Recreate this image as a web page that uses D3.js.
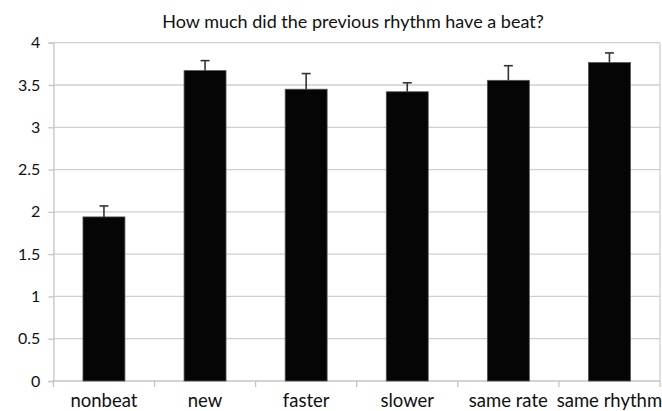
<!DOCTYPE html>
<html>
<head>
<meta charset="utf-8">
<script src="https://cdn.jsdelivr.net/npm/d3@7"></script>
<style>
  html, body { margin: 0; padding: 0; background: #fff; }
  svg { display: block; }
  text { font-family: Lato, "Open Sans", sans-serif; fill: #111; }
</style>
</head>
<body>
<svg id="chart" width="662" height="411"></svg>
<script>
// Mean ratings per condition, with standard-error bars
const categories = ["nonbeat", "new", "faster", "slower", "same rate", "same rhythm"];
const means = [1.94, 3.67, 3.45, 3.42, 3.555, 3.765];
const errors = [0.13, 0.118, 0.185, 0.106, 0.173, 0.114];
const yTicks = [0, 0.5, 1, 1.5, 2, 2.5, 3, 3.5, 4];
const title = "How much did the previous rhythm have a beat?";

const svg = d3.select("#chart");
const margin = { left: 53.4, right: 2, top: 42.7, bottom: 30 };
const W = 662, H = 411;
const plotBottom = 381;

const x = d3.scaleBand()
  .domain(categories)
  .range([margin.left, W - margin.right])
  .paddingInner(0.585)
  .paddingOuter(0.2925);

const y = d3.scaleLinear()
  .domain([0, 4])
  .range([plotBottom, margin.top]);

// Horizontal gridlines
svg.append("g")
  .selectAll("line")
  .data(yTicks.filter(d => d > 0))
  .join("line")
  .attr("x1", margin.left)
  .attr("x2", W - margin.right)
  .attr("y1", d => y(d))
  .attr("y2", d => y(d))
  .attr("stroke", "#cfcfcf")
  .attr("stroke-width", 1.3);

// Right border of the plot area
svg.append("line")
  .attr("x1", W - margin.right).attr("x2", W - margin.right)
  .attr("y1", y(4)).attr("y2", plotBottom)
  .attr("stroke", "#cfcfcf").attr("stroke-width", 1.3);

// Y axis
const yAxis = svg.append("g")
  .attr("transform", `translate(${margin.left},0)`)
  .call(d3.axisLeft(y).tickValues(yTicks).tickSize(5).tickPadding(8)
    .tickFormat(d3.format("~g")));
yAxis.selectAll("path, line").attr("stroke", "#c4c4c4").attr("stroke-width", 1.3);
yAxis.selectAll("text").attr("font-size", 16).attr("font-family", "Lato, sans-serif").attr("fill", "#111");

// X axis with ticks at category boundaries
const step = x.step();
const boundaries = d3.range(categories.length + 1).map(i => margin.left + i * step);
const xAxisG = svg.append("g");
xAxisG.append("line")
  .attr("x1", margin.left).attr("x2", W - margin.right)
  .attr("y1", plotBottom).attr("y2", plotBottom)
  .attr("stroke", "#c4c4c4").attr("stroke-width", 1.3);
xAxisG.selectAll("line.tick")
  .data(boundaries)
  .join("line")
  .attr("class", "tick")
  .attr("x1", d => d).attr("x2", d => d)
  .attr("y1", plotBottom).attr("y2", plotBottom + 6)
  .attr("stroke", "#c4c4c4").attr("stroke-width", 1.3);

// Bars
svg.append("g")
  .selectAll("rect")
  .data(categories)
  .join("rect")
  .attr("x", d => x(d))
  .attr("width", x.bandwidth())
  .attr("y", (d, i) => y(means[i]))
  .attr("height", (d, i) => plotBottom - y(means[i]))
  .attr("fill", "#050505")
  .attr("stroke", "#555")
  .attr("stroke-width", 0.8);

// Error bars (upper half only)
const eb = svg.append("g").attr("stroke", "#333").attr("stroke-width", 1.6);
categories.forEach((c, i) => {
  const cx = x(c) + x.bandwidth() / 2;
  eb.append("line")
    .attr("x1", cx).attr("x2", cx)
    .attr("y1", y(means[i])).attr("y2", y(means[i] + errors[i]));
  eb.append("line")
    .attr("x1", cx - 4.5).attr("x2", cx + 4.5)
    .attr("y1", y(means[i] + errors[i])).attr("y2", y(means[i] + errors[i]));
});

// Category labels
svg.append("g")
  .selectAll("text")
  .data(categories)
  .join("text")
  .attr("x", d => x(d) + x.bandwidth() / 2)
  .attr("y", 407)
  .attr("text-anchor", "middle")
  .attr("font-size", 18.5)
  .text(d => d);

// Title
svg.append("text")
  .attr("x", 353)
  .attr("y", 27.5)
  .attr("text-anchor", "middle")
  .attr("font-size", 18)
  .text(title);
</script>
</body>
</html>
